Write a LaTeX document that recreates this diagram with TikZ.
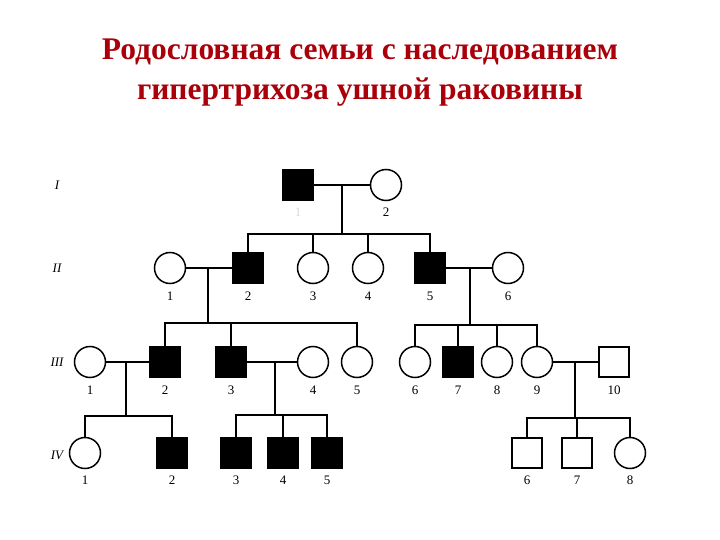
\documentclass[tikz,border=0pt]{standalone}
\usepackage{fontspec}
\setmainfont{Liberation Serif}
\definecolor{titlered}{RGB}{170,0,10}
\begin{document}
\begin{tikzpicture}[x=1pt,y=-1pt,
 line width=1.7pt,
 m/.style={draw,line width=1.5pt,minimum size=30pt,inner sep=0pt,rectangle},
 ma/.style={m,fill=black},
 f/.style={draw,line width=1.5pt,circle,minimum size=31pt,inner sep=0pt},
 num/.style={font=\fontsize{13}{13}\selectfont},
 gen/.style={font=\itshape\fontsize{13}{13}\selectfont}]
\useasboundingbox (0,0) rectangle (720,540);
\node[font=\bfseries\fontsize{31.5}{40}\selectfont,text=titlered,align=center] (title) at (360,73) {Родословная семьи с наследованием\\гипертрихоза ушной раковины};
\node[gen] (g1) at (57,185) {I};
\node[gen] (g2) at (57,268) {II};
\node[gen] (g3) at (57,362) {III};
\node[gen] (g4) at (57,455) {IV};
% Gen I
\node[ma] (a1) at (298,185) {};
\node[f] (a2) at (386,185) {};
% Gen II
\node[f] (b1) at (170,268) {};
\node[ma] (b2) at (248,268) {};
\node[f] (b3) at (313,268) {};
\node[f] (b4) at (368,268) {};
\node[ma] (b5) at (430,268) {};
\node[f] (b6) at (508,268) {};
% Gen III
\node[f] (c1) at (90,362) {};
\node[ma] (c2) at (165,362) {};
\node[ma] (c3) at (231,362) {};
\node[f] (c4) at (313,362) {};
\node[f] (c5) at (357,362) {};
\node[f] (c6) at (415,362) {};
\node[ma] (c7) at (458,362) {};
\node[f] (c8) at (497,362) {};
\node[f] (c9) at (537,362) {};
\node[m] (c10) at (614,362) {};
% Gen IV
\node[f] (d1) at (85,453) {};
\node[ma] (d2) at (172,453) {};
\node[ma] (d3) at (236,453) {};
\node[ma] (d4) at (283,453) {};
\node[ma] (d5) at (327,453) {};
\node[m] (d6) at (527,453) {};
\node[m] (d7) at (577,453) {};
\node[f] (d8) at (630,453) {};
% numbers
\node[num,text=black!15] at (298,212) {1};
\node[num] at (386,212) {2};
\foreach \n/\x in {1/170,2/248,3/313,4/368,5/430,6/508} \node[num] at (\x,296) {\n};
\foreach \n/\x in {1/90,2/165,3/231,4/313,5/357,6/415,7/458,8/497,9/537,10/614} \node[num] at (\x,390) {\n};
\foreach \n/\x in {1/85,2/172,3/236,4/283,5/327,6/527,7/577,8/630} \node[num] at (\x,480) {\n};
% coordinates
\coordinate (j1) at (342,185); \coordinate (s1) at (342,234);
\coordinate (j2) at (208,268); \coordinate (s2) at (208,323);
\coordinate (j3) at (470,268); \coordinate (s3) at (470,325);
\coordinate (j4) at (126,362); \coordinate (s4) at (126,416);
\coordinate (j5) at (275,362); \coordinate (s5) at (275,415);
\coordinate (j6) at (575,362); \coordinate (s6) at (575,418);
% marriages
\draw (a1) -- (a2); \draw (b1) -- (b2); \draw (b5) -- (b6);
\draw (c1) -- (c2); \draw (c3) -- (c4); \draw (c9) -- (c10);
\draw (j1) -- (s1); \draw (j2) -- (s2); \draw (j3) -- (s3);
\draw (j4) -- (s4); \draw (j5) -- (s5); \draw (j6) -- (s6);
% sibships
\draw (b2.north) |- (s1) -| (b5.north);
\foreach \c in {b3,b4} \draw (\c.north) -- (\c.north |- s1);
\draw (c2.north) |- (s2) -| (c5.north);
\draw (c3.north) -- (c3.north |- s2);
\draw (c6.north) |- (s3) -| (c9.north);
\foreach \c in {c7,c8} \draw (\c.north) -- (\c.north |- s3);
\draw (d1.north) |- (s4) -| (d2.north);
\draw (d3.north) |- (s5) -| (d5.north);
\draw (d4.north) -- (d4.north |- s5);
\draw (d6.north) |- (s6) -| (d8.north);
\draw (d7.north) -- (d7.north |- s6);
\end{tikzpicture}
\end{document}
